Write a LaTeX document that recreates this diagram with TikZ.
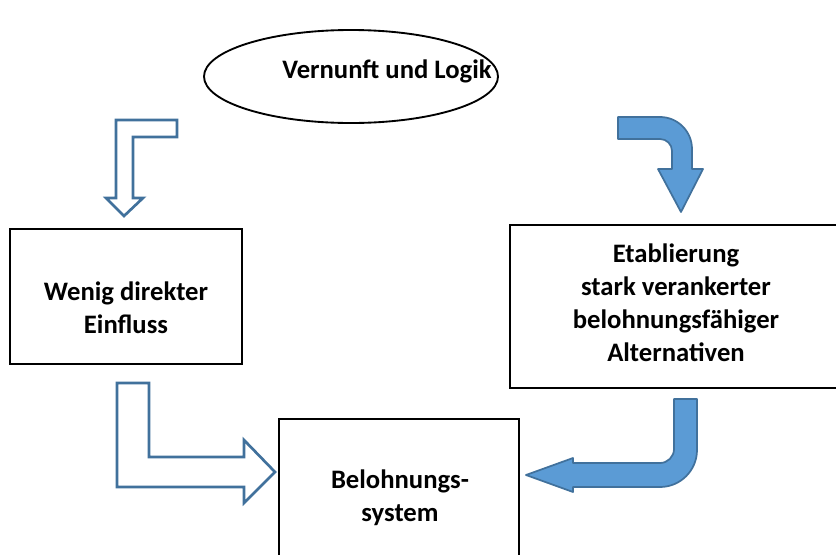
\documentclass[tikz,border=0pt]{standalone}
\usepackage{fontspec}
\setmainfont{Carlito}
\usepackage{tikz}
\usetikzlibrary{shapes.geometric, positioning}
\definecolor{arrowfill}{HTML}{5B9BD5}
\definecolor{arrowedge}{HTML}{41719C}

\begin{document}
\begin{tikzpicture}[
    x=0.75pt, y=-0.75pt,
    every node/.style={font=\bfseries\fontsize{20}{24.75}\selectfont},
    box/.style={rectangle, draw=black, line width=0.8pt, inner sep=0pt},
    boxtext/.style={align=center, inner sep=0pt},
    bigarrow/.style={fill=arrowfill, draw=arrowedge, line width=1.3pt, line join=round},
    openarrow/.style={fill=white, draw=arrowedge, line width=2pt, line join=miter}
]
\useasboundingbox (0,0) rectangle (836,554);

\node (logik) [ellipse, draw=black, line width=1.4pt, inner sep=0pt, minimum width=220.5pt, minimum height=69.75pt] at (351,76.5) {};
\node (logiktext) [boxtext] at (387,71) {Vernunft und Logik};

\node (einfluss) [box, minimum width=174pt, minimum height=101.25pt] at (126,296.5) {};
\node (einflusstext) [boxtext] at (126,308) {Wenig direkter\\Einfluss};

\node (alternativen) [box, minimum width=270pt, minimum height=122.25pt] at (690,306.5) {};
\node (alternativentext) [boxtext] at (676,302.5) {Etablierung\\stark verankerter\\belohnungsfähiger\\Alternativen};

\node (belohnung) [box, minimum width=180pt, minimum height=113.25pt] at (399,494.5) {};
\node (belohnungtext) [boxtext] at (400,498) {Belohnungs-\\system};

% block arrows
\draw [openarrow] (116,120) -- (177,120) -- (177,137) -- (133,137) -- (133,198) -- (143,198) -- (124,216) -- (106,198) -- (116,198) -- cycle;
\draw [bigarrow] (618,117) -- (660,117) arc[start angle=-90, end angle=0, radius=32] -- (692,169) -- (703,169) -- (681,212) -- (658,169) -- (672,169) -- (672,151) arc[start angle=0, end angle=-90, radius=12] -- (618,139) -- cycle;
\draw [openarrow] (117,383) -- (149,383) -- (149,457) -- (244,457) -- (244,440) -- (275,472) -- (244,503) -- (244,487) -- (117,487) -- cycle;
\draw [bigarrow] (674,399) -- (697,399) -- (697,450) arc[start angle=0, end angle=90, radius=37] -- (573,487) -- (573,492) -- (526,475) -- (573,458) -- (573,463) -- (660,463) arc[start angle=90, end angle=0, radius=14] -- cycle;
\end{tikzpicture}
\end{document}
